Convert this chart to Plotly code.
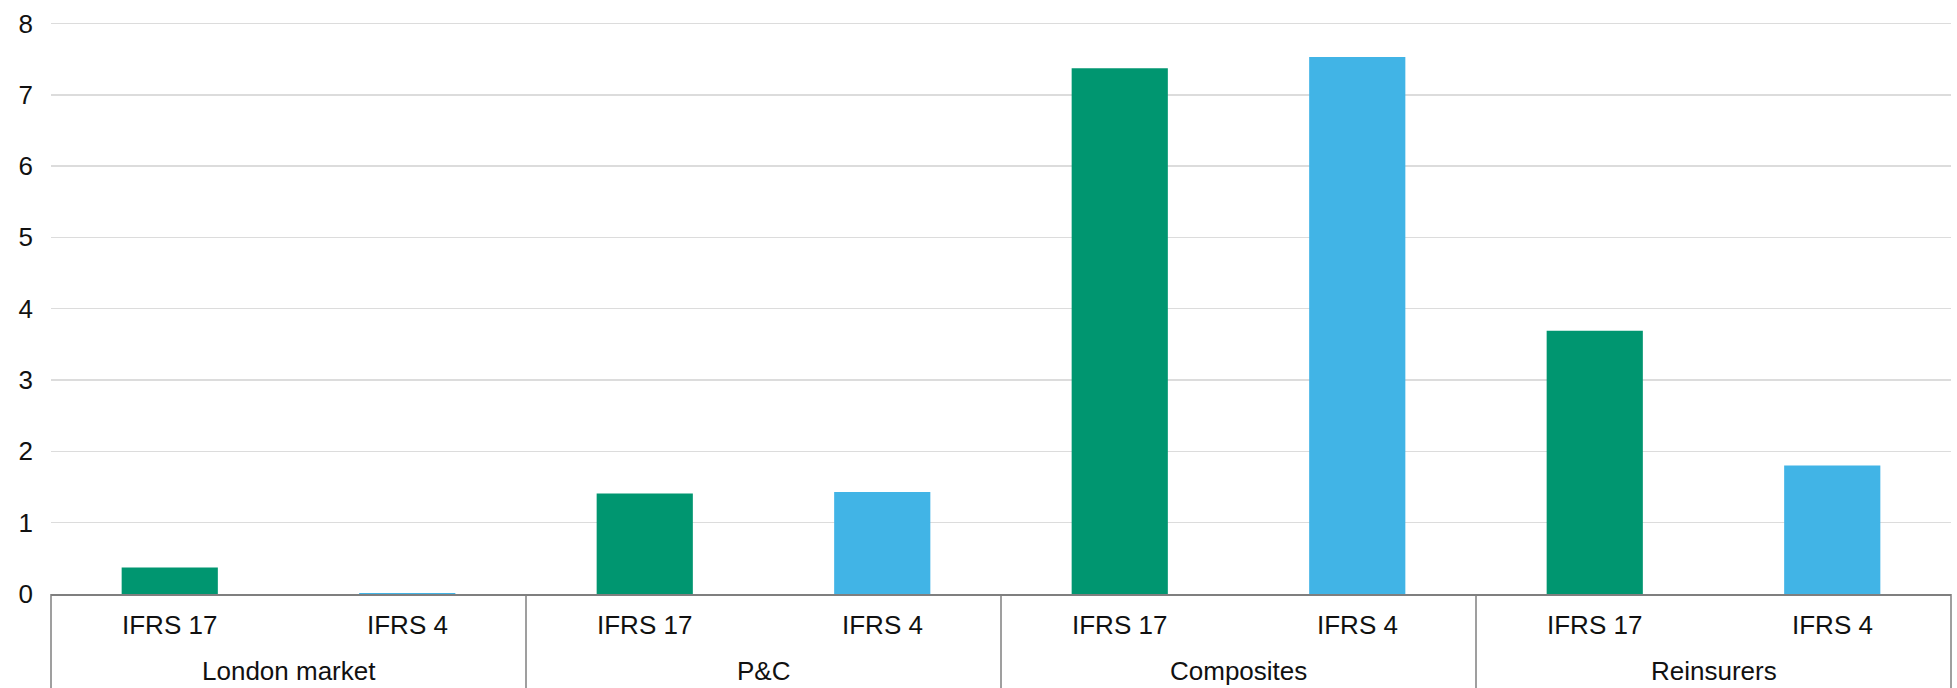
import plotly.graph_objects as go

groups = ["London market", "P&C", "Composites", "Reinsurers"]
standards = ["IFRS 17", "IFRS 4"]
values_ifrs17 = [0.37, 1.41, 7.37, 3.69]
values_ifrs4 = [0.015, 1.43, 7.53, 1.80]
colors = {"IFRS 17": "#009670", "IFRS 4": "#41B4E6"}

xs, ys, cs, sub_labels = [], [], [], []
for g, v17, v4 in zip(groups, values_ifrs17, values_ifrs4):
    for s, v in zip(standards, [v17, v4]):
        xs.append(len(xs))
        ys.append(v)
        cs.append(colors[s])
        sub_labels.append(s)

n = len(xs)
ns = len(standards)

font = dict(family="Liberation Sans, Arial, sans-serif", size=26, color="#111111")

fig = go.Figure(go.Bar(
    x=xs, y=ys, marker=dict(color=cs, line=dict(width=0)),
    width=0.405, showlegend=False, hoverinfo="skip",
))

line_col = "#7f7f7f"
shapes = []
for k in range(len(groups) + 1):
    shapes.append(dict(type="line", xref="paper", yref="paper",
                       x0=k / len(groups), x1=k / len(groups), y0=0, y1=-0.5,
                       line=dict(color=line_col, width=1.5)))

annotations = []
for i, s in zip(xs, sub_labels):
    annotations.append(dict(x=i, y=0, xref="x", yref="paper", text=s,
                            showarrow=False, yanchor="middle", yshift=-31,
                            font=font))
for j, g in enumerate(groups):
    annotations.append(dict(x=j * ns + (ns - 1) / 2, y=0, xref="x", yref="paper",
                            text=g, showarrow=False, yanchor="middle", yshift=-77,
                            font=font))

fig.update_layout(
    width=1957, height=688,
    margin=dict(l=51, r=6, t=22, b=94),
    plot_bgcolor="white", paper_bgcolor="white",
    font=font, shapes=shapes, annotations=annotations,
)
fig.update_xaxes(
    range=[-0.5, n - 0.5], showline=True, linecolor=line_col, linewidth=1.5,
    showticklabels=False, showgrid=False, zeroline=False, ticks="",
    automargin=False,
)
fig.update_yaxes(
    range=[0, 8.02], dtick=1, showgrid=True, gridcolor="#dcdcdc", gridwidth=1.5,
    zeroline=False, showline=False, ticks="", ticklabelstandoff=17, tickfont=font,
    automargin=False,
)
fig.write_html(
    "out.html",
    config={"displayModeBar": False, "staticPlot": True},
    post_script="document.body.style.margin='0';document.body.style.overflow='hidden';",
)
